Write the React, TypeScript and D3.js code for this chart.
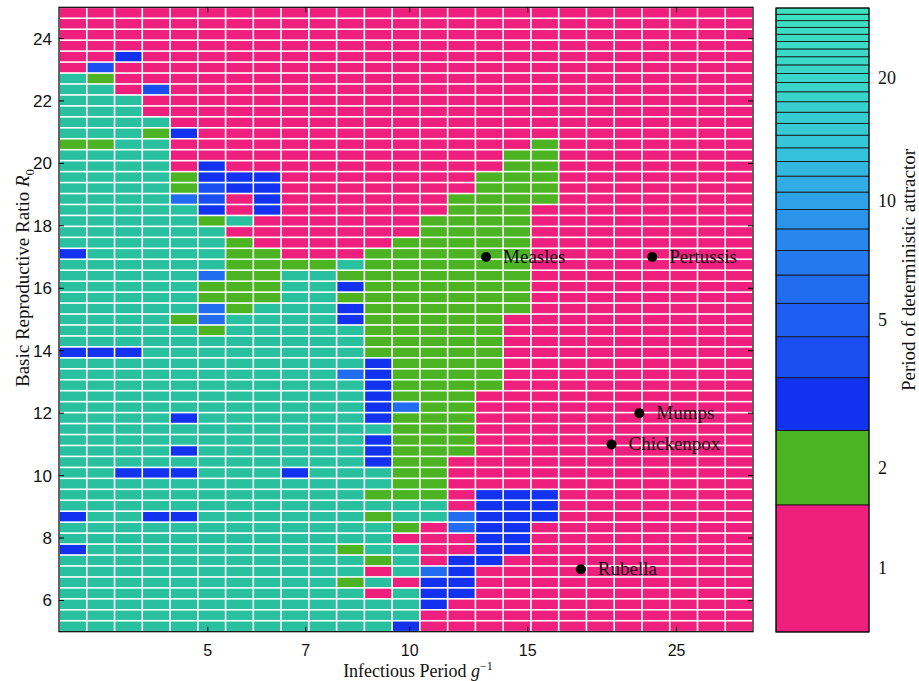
import React from 'react';
import * as d3 from 'd3';

// Period grid: one string per row, top row = highest R0, 25 columns (infectious period, log spaced)
// P = period 1, G = period 2, B = period 3, b = period 4, L = period 6, T = long period (teal)
const PERIOD_GRID: string[] = [
  'PPPPPPPPPPPPPPPPPPPPPPPPP',
  'PPPPPPPPPPPPPPPPPPPPPPPPP',
  'PPPPPPPPPPPPPPPPPPPPPPPPP',
  'PPPPPPPPPPPPPPPPPPPPPPPPP',
  'PPBPPPPPPPPPPPPPPPPPPPPPP',
  'PbPPPPPPPPPPPPPPPPPPPPPPP',
  'TGPPPPPPPPPPPPPPPPPPPPPPP',
  'TTPbPPPPPPPPPPPPPPPPPPPPP',
  'TTTPPPPPPPPPPPPPPPPPPPPPP',
  'TTTPPPPPPPPPPPPPPPPPPPPPP',
  'TTTTPPPPPPPPPPPPPPPPPPPPP',
  'TTTGBPPPPPPPPPPPPPPPPPPPP',
  'GGTTPPPPPPPPPPPPPGPPPPPPP',
  'TTTTPPPPPPPPPPPPGGPPPPPPP',
  'TTTTPBPPPPPPPPPPGGPPPPPPP',
  'TTTTGBBBPPPPPPPGGGPPPPPPP',
  'TTTTGbBBPPPPPPPGGGPPPPPPP',
  'TTTTLbPBPPPPPPGGGGPPPPPPP',
  'TTTTTBPBPPPPPPGGGPPPPPPPP',
  'TTTTTGTPPPPPPGGGGPPPPPPPP',
  'TTTTTTPPPPPPPGGGGPPPPPPPP',
  'TTTTTTGPPPPPGGGGGPPPPPPPP',
  'BTTTTTGGPPPGGGGGGPPPPPPPP',
  'TTTTTTGGGGTGGGGGGPPPPPPPP',
  'TTTTTLGGTTGGGGGGGPPPPPPPP',
  'TTTTTGGGTTBGGGGGGPPPPPPPP',
  'TTTTTGGGTTGGGGGGGPPPPPPPP',
  'TTTTTLGTTTBGGGGGGPPPPPPPP',
  'TTTTGLTTTTBGGGGGPPPPPPPPP',
  'TTTTTGTTTTTGGGGGPPPPPPPPP',
  'TTTTTTTTTTTGGGGGPPPPPPPPP',
  'BBBTTTTTTTTGGGGGPPPPPPPPP',
  'TTTTTTTTTTTBGGGGPPPPPPPPP',
  'TTTTTTTTTTLBGGGGPPPPPPPPP',
  'TTTTTTTTTTTBGGGGPPPPPPPPP',
  'TTTTTTTTTTTBGGGPPPPPPPPPP',
  'TTTTTTTTTTTBLGGPPPPPPPPPP',
  'TTTTBTTTTTTBGGGPPPPPPPPPP',
  'TTTTTTTTTTTTGGGPPPPPPPPPP',
  'TTTTTTTTTTTBGGGPPPPPPPPPP',
  'TTTTBTTTTTTBGGGPPPPPPPPPP',
  'TTTTTTTTTTTBGGPPPPPPPPPPP',
  'TTBBBTTTBTTTGGPPPPPPPPPPP',
  'TTTTTTTTTTTTGGPPPPPPPPPPP',
  'TTTTTTTTTTTGGGPBBBPPPPPPP',
  'TTTTTTTTTTTTTTPBBBPPPPPPP',
  'BTTBBTTTTTTGTTLBBBPPPPPPP',
  'TTTTTTTTTTTTGPLBBPPPPPPPP',
  'TTTTTTTTTTTTPPPBBPPPPPPPP',
  'BTTTTTTTTTGTTPPBBPPPPPPPP',
  'TTTTTTTTTTTGTPBBPPPPPPPPP',
  'TTTTTTTTTTTPTLBPPPPPPPPPP',
  'TTTTTTTTTTGTPBBPPPPPPPPPP',
  'TTTTTTTTTTTPTBBPPPPPPPPPP',
  'TTTTTTTTTTTTTBPPPPPPPPPPP',
  'TTTTTTTTTTTTTPPPPPPPPPPPP',
  'TTTTTTTTTTTTBPPPPPPPPPPPP',
];

const CODE_PERIOD: Record<string, number> = { P: 1, G: 2, B: 3, b: 4, L: 6, T: 30 };

const G_MIN = 3;          // infectious period at left edge
const G_RATIO = 1.1;      // ratio between neighbouring columns
const R0_MIN = 5;
const R0_MAX = 25;

const X_TICKS = [5, 7, 10, 15, 25];
const Y_TICKS = [6, 8, 10, 12, 14, 16, 18, 20, 22, 24];
const CBAR_TICKS = [1, 2, 5, 10, 20];
const CBAR_MAX = 30;

const DISEASE_NAMES = ['Measles', 'Pertussis', 'Mumps', 'Chickenpox', 'Rubella'];
const DISEASE_G = [13, 23, 22, 20, 18];
const DISEASE_R0 = [17, 17, 12, 11, 7];

const PINK = '#ef1f7d';
const GREEN = '#4cb322';
const TEAL = '#29c0a0';
const BLUE_STOPS_P = [3, 4, 5, 6, 8, 10, 13, 18, 29];
const BLUE_STOPS_C = ['#1232f0', '#1a4ef0', '#1e5ef0', '#226cf0', '#2886ec', '#2ea2e8', '#34c2dc', '#38d4cc', '#3ee0c0'];

const blueScale = d3.scaleLinear<string>().domain(BLUE_STOPS_P).range(BLUE_STOPS_C).clamp(true);
function colorFor(p: number): string {
  if (p === 1) return PINK;
  if (p === 2) return GREEN;
  if (p >= 30) return TEAL;
  return blueScale(p);
}

export default function App() {
  const W = 919, H = 681;
  const left = 59, right = 753, top = 7.3, bottom = 631.7;
  const nCols = PERIOD_GRID[0].length;
  const nRows = PERIOD_GRID.length;
  const gMax = G_MIN * Math.pow(G_RATIO, nCols);
  const x = d3.scaleLog().domain([G_MIN, gMax]).range([left, right]);
  const y = d3.scaleLinear().domain([R0_MIN, R0_MAX]).range([bottom, top]);
  const rowH = (R0_MAX - R0_MIN) / nRows;

  const cells: any[] = [];
  PERIOD_GRID.forEach((row, ri) => {
    const r0Top = R0_MAX - ri * rowH;
    const r0Bot = r0Top - rowH;
    for (let ci = 0; ci < nCols; ci++) {
      const g0 = G_MIN * Math.pow(G_RATIO, ci);
      const g1 = g0 * G_RATIO;
      const p = CODE_PERIOD[row[ci]];
      const x0 = x(g0), x1 = x(g1), y0 = y(r0Top), y1 = y(r0Bot);
      const gap = 0.8;
      cells.push(
        <rect key={`${ri}-${ci}`} x={x0 + gap} y={y0 + gap} width={x1 - x0 - 2 * gap} height={y1 - y0 - 2 * gap} fill={colorFor(p)} />
      );
    }
  });

  // colorbar
  const cbL = 776, cbR = 869;
  const cy = d3.scaleLog().domain([1, CBAR_MAX]).range([632, 8]);
  const bands: any[] = [];
  for (let p = 1; p < CBAR_MAX; p++) {
    bands.push(
      <rect key={p} x={cbL} y={cy(p + 1)} width={cbR - cbL} height={cy(p) - cy(p + 1)} fill={p >= 3 ? blueScale(p) : colorFor(p)} stroke="#111" strokeWidth={0.8} />
    );
  }

  const sans = '"Liberation Sans", Arial, Helvetica, sans-serif';
  const serif = '"Liberation Serif", "Times New Roman", Times, serif';
  const tk = 5;

  return (
    <svg width={W} height={H} style={{ position: 'absolute', left: 0, top: 0, background: '#fff' }}>
      <rect x={left} y={top} width={right - left} height={bottom - top} fill="#fff" />
      {cells}
      <rect x={left} y={top} width={right - left} height={bottom - top} fill="none" stroke="#000" strokeWidth={1.2} />
      {X_TICKS.map(v => (
        <g key={'x' + v}>
          <line x1={x(v)} x2={x(v)} y1={bottom} y2={bottom - tk} stroke="#000" strokeWidth={1} />
          <line x1={x(v)} x2={x(v)} y1={top} y2={top + tk} stroke="#000" strokeWidth={1} />
          <text x={x(v)} y={656} textAnchor="middle" fontFamily={sans} fontSize={16} fill="#111">{v}</text>
        </g>
      ))}
      {Y_TICKS.map(v => (
        <g key={'y' + v}>
          <line x1={left} x2={left + tk} y1={y(v)} y2={y(v)} stroke="#000" strokeWidth={1} />
          <line x1={right} x2={right - tk} y1={y(v)} y2={y(v)} stroke="#000" strokeWidth={1} />
          <text x={52} y={y(v) + 6} textAnchor="end" fontFamily={sans} fontSize={17} fill="#111">{v}</text>
        </g>
      ))}
      <text x={418} y={677} textAnchor="middle" fontFamily={serif} fontSize={18} fill="#111">
        Infectious Period <tspan fontStyle="italic">g</tspan><tspan dy={-7} fontSize={12}>−1</tspan>
      </text>
      <text transform={`translate(29, 278) rotate(-90)`} textAnchor="middle" fontFamily={serif} fontSize={19} fill="#111">
        Basic Reproductive Ratio <tspan fontStyle="italic">R</tspan><tspan dy={5} fontSize={13}>0</tspan>
      </text>
      {DISEASE_NAMES.map((n, i) => (
        <g key={n}>
          <circle cx={x(DISEASE_G[i])} cy={y(DISEASE_R0[i])} r={5} fill="#000" />
          <text x={x(DISEASE_G[i]) + 17} y={y(DISEASE_R0[i]) + 6} fontFamily={serif} fontSize={19} fill="#111">{n}</text>
        </g>
      ))}
      {bands}
      <rect x={cbL} y={8} width={cbR - cbL} height={624} fill="none" stroke="#000" strokeWidth={1} />
      {CBAR_TICKS.map(v => (
        <text key={'c' + v} x={878} y={(cy(v) + cy(v + 1)) / 2 + 6} fontFamily={serif} fontSize={18} fill="#111">{v}</text>
      ))}
      <text transform={`translate(915, 270) rotate(-90)`} textAnchor="middle" fontFamily={serif} fontSize={19} fill="#111">
        Period of deterministic attractor
      </text>
    </svg>
  );
}
